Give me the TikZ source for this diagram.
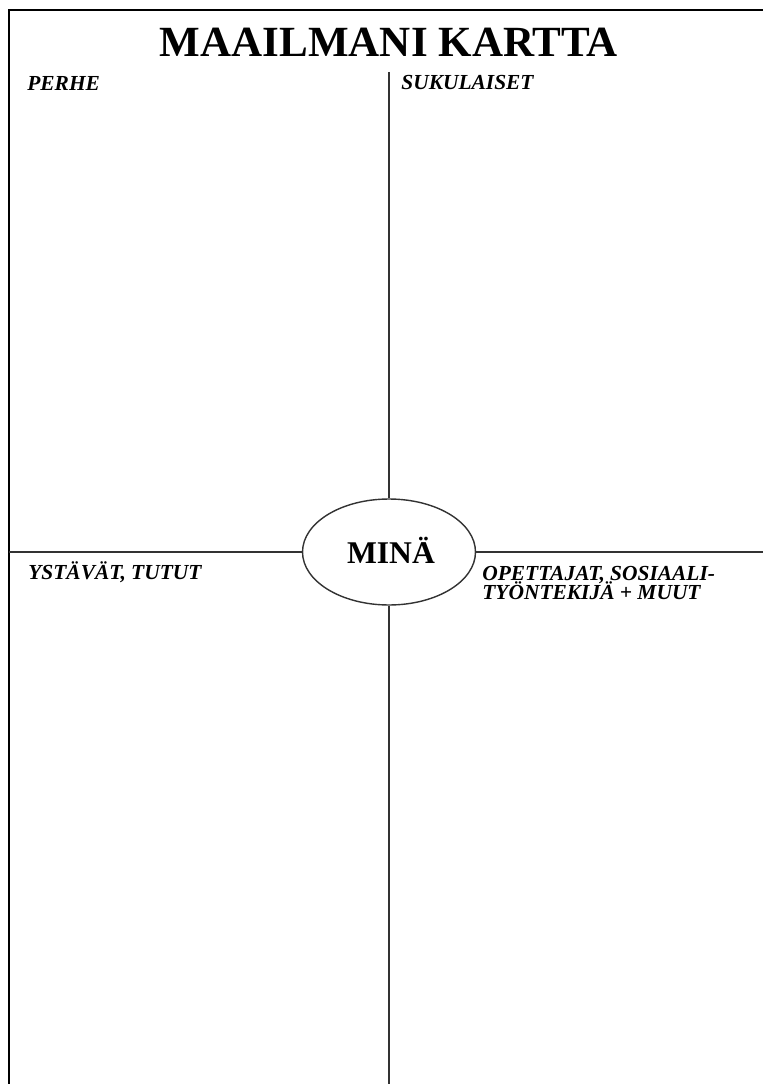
\documentclass[tikz,border=0pt]{standalone}
\usepackage{fontspec}
\setmainfont{Liberation Serif}
\usetikzlibrary{shapes.geometric}
\tikzset{
  frame/.style={line width=1.5pt,draw=black},
  axis/.style={line width=0.8pt,draw=black!80},
  ttl/.style={font=\fontsize{24.5}{28}\selectfont\bfseries,inner sep=0pt},
  lbl/.style={font=\fontsize{12.2}{10.8}\selectfont\bfseries\itshape,inner sep=0pt,align=left},
  me/.style={ellipse,draw=black!80,line width=0.8pt,minimum width=3.46cm,minimum height=2.12cm,inner sep=0pt,font=\fontsize{18}{20}\selectfont\bfseries},
}
\begin{document}
\begin{tikzpicture}[x=0.02cm,y=-0.02cm]
  \useasboundingbox (0,0) rectangle (763,1084);
  % frame, open to the right and bottom
  \draw[frame] (9,1084) -- (9,10) -- (763,10);
  \node[ttl,anchor=base] (title) at (389,57) {MAAILMANI KARTTA};
  % centre
  \node[me] (mina) at (389,552) {};
  \node[font=\fontsize{18}{20}\selectfont\bfseries,inner sep=0pt,anchor=base] (minatxt) at (391,563) {MINÄ};
  \coordinate (top) at (389,72);
  \coordinate (bot) at (389,1084);
  \coordinate (lft) at (9,552);
  \coordinate (rgt) at (763,552);
  \draw[axis] (top) -- (mina.north);
  \draw[axis] (mina.south) -- (bot);
  \draw[axis] (lft) -- (mina.west);
  \draw[axis] (mina.east) -- (rgt);
  % quadrant labels
  \node[lbl,anchor=base west] (perhe) at (27,91) {PERHE};
  \node[lbl,anchor=base west] (suku) at (401,90) {SUKULAISET};
  \node[lbl,anchor=base west] (ystavat) at (28,579) {YSTÄVÄT, TUTUT};
  \node[lbl,anchor=base west] (opet1) at (482,580) {OPETTAJAT, SOSIAALI-};
  \node[lbl,anchor=base west] (opet2) at (482,599) {TYÖNTEKIJÄ + MUUT};
\end{tikzpicture}
\end{document}
